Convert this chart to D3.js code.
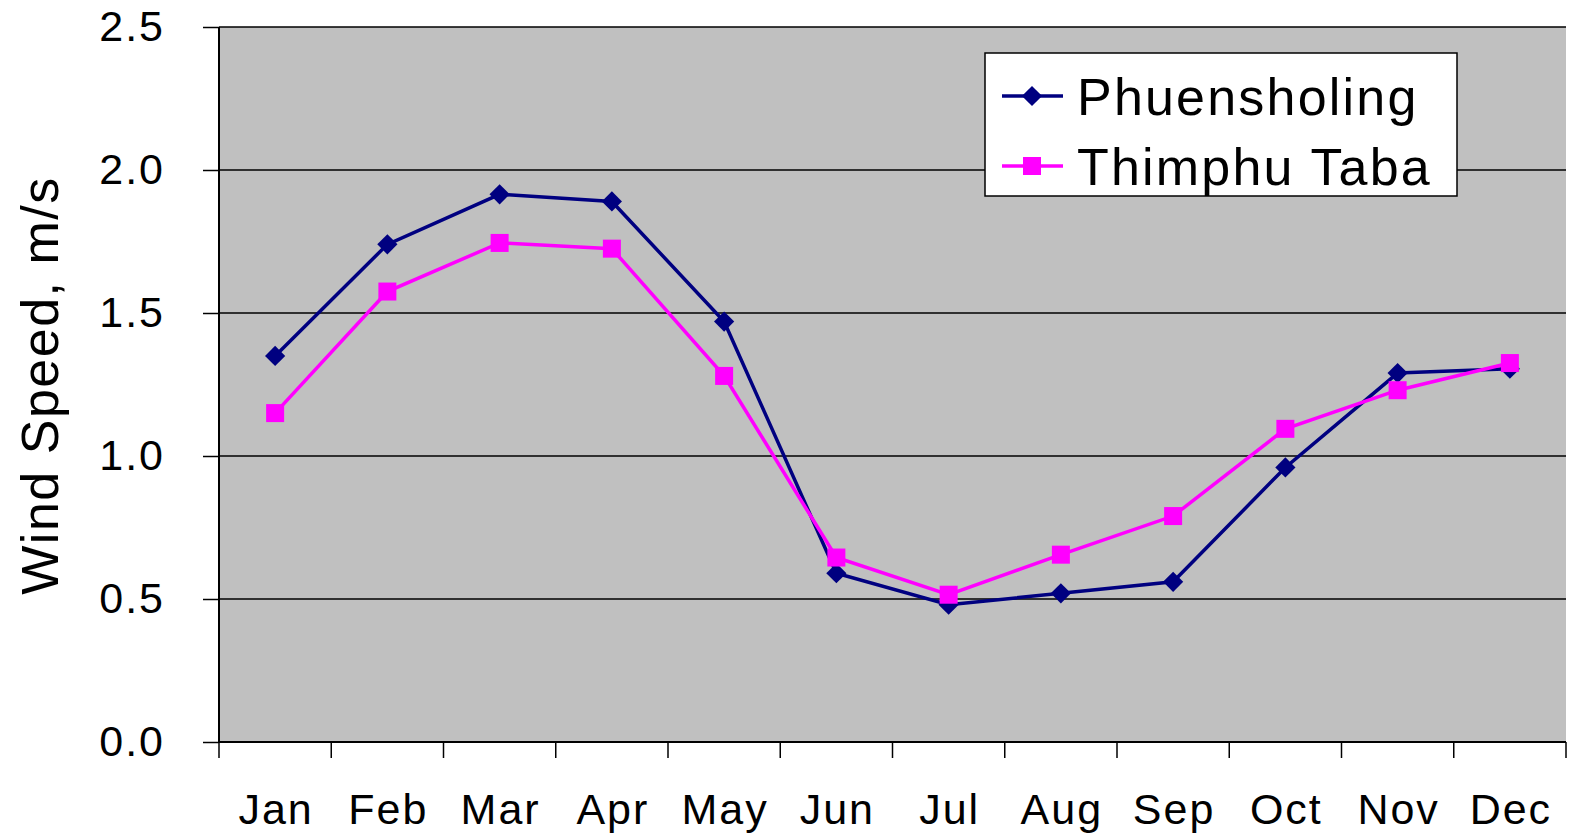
<!DOCTYPE html>
<html>
<head>
<meta charset="utf-8">
<script src="https://cdn.jsdelivr.net/npm/d3@7"></script>
<style>
  body { margin: 0; background: #fff; }
  svg { display: block; font-family: "Liberation Sans", Arial, sans-serif; }
</style>
</head>
<body>
<svg width="1571" height="836"></svg>
<script>
// months on the x axis
const months = ["Jan", "Feb", "Mar", "Apr", "May", "Jun", "Jul", "Aug", "Sep", "Oct", "Nov", "Dec"];
// wind speed, m/s
const phuensholing = [1.35, 1.74, 1.915, 1.89, 1.47, 0.59, 0.48, 0.52, 0.56, 0.96, 1.29, 1.305];
const thimphuTaba = [1.15, 1.575, 1.745, 1.725, 1.28, 0.645, 0.515, 0.655, 0.79, 1.095, 1.23, 1.325];
const yTicks = [0, 0.5, 1.0, 1.5, 2.0, 2.5];
const seriesNames = ["Phuensholing", "Thimphu Taba"];

const margin = { top: 27, right: 5, bottom: 94, left: 219 },
      width = 1566 - margin.left,
      height = 742 - margin.top;

const svg = d3.select("svg")
  .append("g")
    .attr("transform", `translate(${margin.left},${margin.top})`);

// plot background
svg.append("rect")
    .attr("width", width)
    .attr("height", height)
    .attr("fill", "#c0c0c0");

const x = d3.scaleBand().domain(months).range([0, width]);
const y = d3.scaleLinear().domain([0, 2.5]).range([height, 0]);

// gridlines
svg.selectAll(".grid")
    .data(yTicks.filter(d => d > 0))
  .enter().append("line")
    .attr("x1", 0).attr("x2", width)
    .attr("y1", d => y(d)).attr("y2", d => y(d))
    .attr("stroke", "#000").attr("stroke-width", 1.5);

// Y axis
const yAxis = svg.append("g")
    .call(d3.axisLeft(y).tickValues(yTicks).tickFormat(d3.format(".1f")).tickSize(16).tickPadding(38));
yAxis.select(".domain").attr("stroke-width", 2).attr("d", `M0,0V${height}`);
yAxis.selectAll(".tick line").attr("stroke-width", 1.5);
yAxis.selectAll("text").style("font-size", "43px").style("letter-spacing", "2px").attr("fill", "#000");

// X axis, ticks on band boundaries
const xAxis = svg.append("g")
    .attr("transform", `translate(0,${height})`);
xAxis.append("line")
    .attr("x1", 0).attr("x2", width)
    .attr("stroke", "#000").attr("stroke-width", 2);
xAxis.selectAll(".xtick")
    .data(months.concat(["end"]))
  .enter().append("line")
    .attr("x1", (d, i) => i < months.length ? x(d) : width)
    .attr("x2", (d, i) => i < months.length ? x(d) : width)
    .attr("y1", 0).attr("y2", 16)
    .attr("stroke", "#000").attr("stroke-width", 1.5);
xAxis.selectAll(".xlabel")
    .data(months)
  .enter().append("text")
    .attr("x", d => x(d) + x.bandwidth() / 2 + 1)
    .attr("y", 82)
    .attr("text-anchor", "middle")
    .style("font-size", "43px")
    .style("letter-spacing", "2px")
    .text(d => d);

// Y axis title
svg.append("text")
    .attr("transform", `translate(${-margin.left + 58},${height / 2 + 1}) rotate(-90)`)
    .attr("text-anchor", "middle")
    .style("font-size", "52px")
    .style("letter-spacing", "1.5px")
    .text("Wind Speed, m/s");

const line = d3.line()
    .x((d, i) => x(months[i]) + x.bandwidth() / 2)
    .y(d => y(d));

const diamond = d3.symbol().type(d3.symbolDiamond2).size(260);

// Phuensholing
svg.append("path")
    .datum(phuensholing)
    .attr("d", line)
    .attr("fill", "none")
    .attr("stroke", "#000080")
    .attr("stroke-width", 3.5);
svg.selectAll(".dia")
    .data(phuensholing)
  .enter().append("path")
    .attr("d", diamond)
    .attr("transform", (d, i) => `translate(${x(months[i]) + x.bandwidth() / 2},${y(d)})`)
    .attr("fill", "#000080");

// Thimphu Taba
svg.append("path")
    .datum(thimphuTaba)
    .attr("d", line)
    .attr("fill", "none")
    .attr("stroke", "#ff00ff")
    .attr("stroke-width", 3.5);
svg.selectAll(".sq")
    .data(thimphuTaba)
  .enter().append("rect")
    .attr("x", (d, i) => x(months[i]) + x.bandwidth() / 2 - 9)
    .attr("y", d => y(d) - 9)
    .attr("width", 18).attr("height", 18)
    .attr("fill", "#ff00ff");

// legend
const legend = svg.append("g")
    .attr("transform", `translate(${985 - margin.left},${53 - margin.top})`);
legend.append("rect")
    .attr("width", 472).attr("height", 143)
    .attr("fill", "#fff").attr("stroke", "#000").attr("stroke-width", 1.5);
const colors = ["#000080", "#ff00ff"];
seriesNames.forEach((name, i) => {
  const cy = 43 + i * 70;
  legend.append("line")
      .attr("x1", 17).attr("x2", 78)
      .attr("y1", cy).attr("y2", cy)
      .attr("stroke", colors[i]).attr("stroke-width", 3.5);
  if (i === 0) {
    legend.append("path")
        .attr("d", diamond)
        .attr("transform", `translate(47,${cy})`)
        .attr("fill", colors[i]);
  } else {
    legend.append("rect")
        .attr("x", 38).attr("y", cy - 9)
        .attr("width", 18).attr("height", 18)
        .attr("fill", colors[i]);
  }
  legend.append("text")
      .attr("x", 92)
      .attr("y", cy + 19)
      .style("font-size", "52px")
      .style("letter-spacing", "2.2px")
      .text(name);
});
</script>
</body>
</html>
